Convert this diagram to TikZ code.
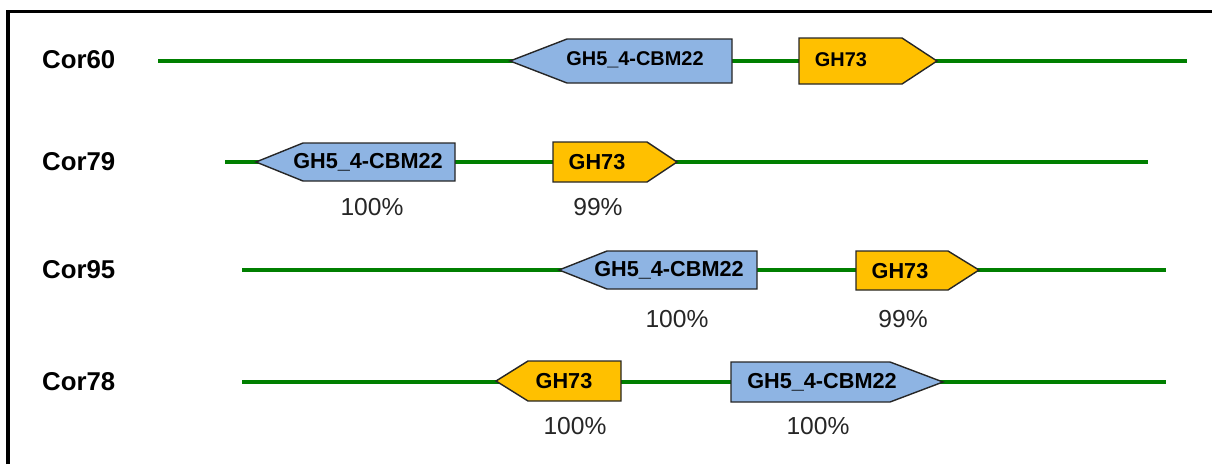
\documentclass[tikz,border=0pt]{standalone}
\usepackage{fontspec}
\setmainfont{Liberation Sans}
\usetikzlibrary{positioning}
\definecolor{gh5blue}{HTML}{8EB4E3}
\definecolor{gh73gold}{HTML}{FFC000}
\definecolor{contiggreen}{HTML}{007F00}

\begin{document}
\begin{tikzpicture}[x=0.03cm, y=-0.03cm,
  contig/.style={draw=contiggreen, line width=3.9pt},
  gene/.style={draw=black!85, line width=1.2pt, line join=miter},
  gh5/.style={gene, fill=gh5blue},
  gh73/.style={gene, fill=gh73gold},
  genetext/.style={inner sep=0pt, font=\fontsize{18.5}{20}\selectfont\bfseries},
  cor/.style={anchor=west, inner sep=0pt, font=\fontsize{22}{24}\selectfont\bfseries},
  ident/.style={inner sep=0pt, text=black!85, font=\fontsize{21}{23}\selectfont}]
  \useasboundingbox (0,0) rectangle (1212,464);
  \draw[line width=3pt] (8,464) -- (8,11.5) -- (1212,11.5);

  % Cor60
  \node[cor] (cor60) at (42,60) {Cor60};
  \coordinate (c60a) at (158,61);
  \coordinate (c60b) at (1187,61);
  \draw[contig] (c60a) -- (c60b);
  \draw[gh5] (510,61) -- (567,39) -- (732,39) -- (732,83) -- (567,83) -- cycle;
  \draw[gh73] (799,38) -- (902,38) -- (937,61) -- (902,84) -- (799,84) -- cycle;
  \node[genetext, font=\fontsize{17}{19}\selectfont\bfseries] (g60a) at (635,60) {GH5\_4-CBM22};
  \node[genetext, font=\fontsize{17}{19}\selectfont\bfseries] (g60b) at (841,60) {GH73};

  % Cor79
  \node[cor] (cor79) at (42,162) {Cor79};
  \coordinate (c79a) at (225,162);
  \coordinate (c79b) at (1148,162);
  \draw[contig] (c79a) -- (c79b);
  \draw[gh5] (256,162) -- (303,143) -- (455,143) -- (455,181) -- (303,181) -- cycle;
  \draw[gh73] (553,142) -- (647,142) -- (677,162) -- (647,182) -- (553,182) -- cycle;
  \node[genetext] (g79a) at (368,162) {GH5\_4-CBM22};
  \node[genetext] (g79b) at (597,162) {GH73};
  \node[ident] (p79a) at (372,207) {100\%};
  \node[ident] (p79b) at (598,207) {99\%};

  % Cor95
  \node[cor] (cor95) at (42,270) {Cor95};
  \coordinate (c95a) at (242,270);
  \coordinate (c95b) at (1166,270);
  \draw[contig] (c95a) -- (c95b);
  \draw[gh5] (559,270) -- (607,251) -- (757,251) -- (757,289) -- (607,289) -- cycle;
  \draw[gh73] (856,251) -- (948,251) -- (979,270) -- (948,290) -- (856,290) -- cycle;
  \node[genetext] (g95a) at (669,270) {GH5\_4-CBM22};
  \node[genetext] (g95b) at (900,271) {GH73};
  \node[ident] (p95a) at (677,319) {100\%};
  \node[ident] (p95b) at (903,319) {99\%};

  % Cor78
  \node[cor] (cor78) at (42,382) {Cor78};
  \coordinate (c78a) at (242,382);
  \coordinate (c78b) at (1166,382);
  \draw[contig] (c78a) -- (c78b);
  \draw[gh73] (496,381) -- (528,361) -- (621,361) -- (621,401) -- (528,401) -- cycle;
  \draw[gh5] (731,362) -- (890,362) -- (943,382) -- (890,402) -- (731,402) -- cycle;
  \node[genetext] (g78a) at (564,381) {GH73};
  \node[genetext] (g78b) at (822,382) {GH5\_4-CBM22};
  \node[ident] (p78a) at (575,426) {100\%};
  \node[ident] (p78b) at (818,426) {100\%};
\end{tikzpicture}
\end{document}
